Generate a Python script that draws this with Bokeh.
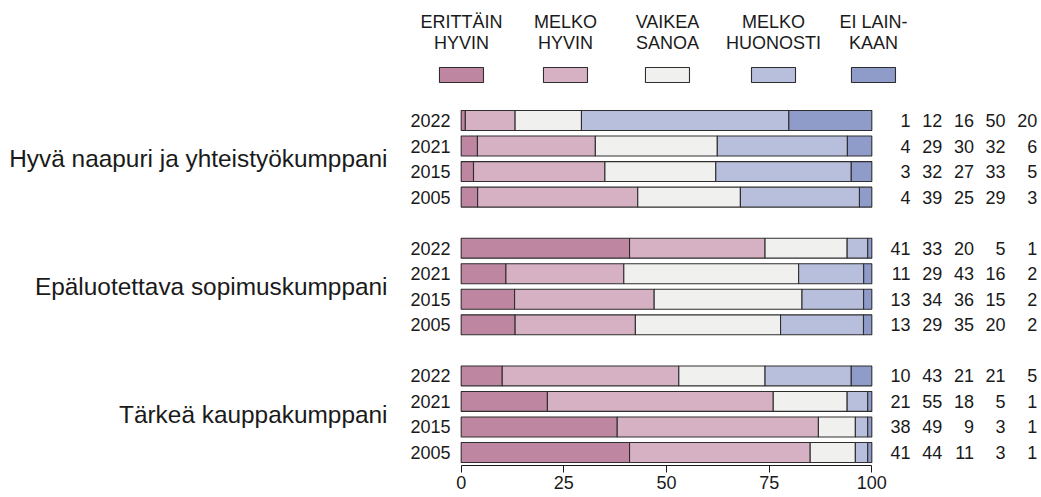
from bokeh.plotting import figure
from bokeh.models import ColumnDataSource, Range1d, LinearAxis, FixedTicker
from bokeh.core.properties import value
from bokeh.embed import file_html
from bokeh.resources import INLINE

# ---------------- data ----------------
groups = ["Hyvä naapuri ja yhteistyökumppani",
          "Epäluotettava sopimuskumppani",
          "Tärkeä kauppakumppani"]
years = ["2022", "2021", "2015", "2005"]
series_names_1 = ["ERITTÄIN", "MELKO", "VAIKEA", "MELKO", "EI LAIN-"]
series_names_2 = ["HYVIN", "HYVIN", "SANOA", "HUONOSTI", "KAAN"]

erittain_hyvin = [1, 4, 3, 4, 41, 11, 13, 13, 10, 21, 38, 41]
melko_hyvin = [12, 29, 32, 39, 33, 29, 34, 29, 43, 55, 49, 44]
vaikea_sanoa = [16, 30, 27, 25, 20, 43, 36, 35, 21, 18, 9, 11]
melko_huonosti = [50, 32, 33, 29, 5, 16, 15, 20, 21, 5, 3, 3]
ei_lainkaan = [20, 6, 5, 3, 1, 2, 2, 2, 5, 1, 1, 1]
x_ticks = [0, 25, 50, 75, 100]

series = [erittain_hyvin, melko_hyvin, vaikea_sanoa, melko_huonosti, ei_lainkaan]
colors = ["#bf86a1", "#d6b0c3", "#f0f1ef", "#b7bfdc", "#8f9bc9"]

FONT = "Liberation Sans"
TXT = "#1a1a1a"

# ---------------- layout ----------------
W, H = 1041, 497
p = figure(width=W, height=H, output_backend="svg", toolbar_location=None,
           x_range=Range1d(-112.2, 141.33), y_range=Range1d(13.508, -4.698),
           min_border_left=0, min_border_right=0, min_border_top=0,
           min_border_bottom=32, y_axis_location=None, x_axis_location=None)
p.outline_line_color = None
p.xgrid.visible = False
p.ygrid.visible = False
p.background_fill_color = "white"
p.border_fill_color = "white"

# rows: group g, year i -> g*5 + i
rows, year_lbl = [], []
for g in range(len(groups)):
    for i, yr in enumerate(years):
        rows.append(g * 5 + i)
        year_lbl.append(yr)

n = len(rows)
totals = [sum(s[k] for s in series) for k in range(n)]
lefts = [0.0] * n
for s, c in zip(series, colors):
    widths = [100.0 * s[k] / totals[k] for k in range(n)]
    rights = [lefts[k] + widths[k] for k in range(n)]
    src = ColumnDataSource(dict(y=rows, left=lefts, right=rights))
    p.hbar(y="y", left="left", right="right", height=0.78, source=src,
           fill_color=c, line_color="#2e2e2e", line_width=1.1)
    lefts = rights

# year labels
p.text(x=[-2.6] * n, y=rows, text=year_lbl, text_align="right",
       text_baseline="middle", text_font=value(FONT), text_font_size="18px",
       text_color=TXT)

# group labels
p.text(x=[-17.95] * len(groups), y=[g * 5 + 1.5 for g in range(len(groups))],
       text=groups, text_align="right", text_baseline="middle",
       text_font=value(FONT), text_font_size="24.4px", text_color=TXT)

# value columns
col_x = [109.43, 117.15, 124.87, 132.57, 140.3]
for cx, s in zip(col_x, series):
    p.text(x=[cx] * n, y=rows, text=[str(v) for v in s], text_align="right",
           text_baseline="middle", text_font=value(FONT), text_font_size="18px",
           text_color=TXT)

# legend
leg_x = [0.07, 25.4, 50.24, 76.06, 100.41]
p.text(x=leg_x, y=[-3.837] * 5, text=series_names_1, text_align="center",
       text_baseline="middle", text_font=value(FONT), text_font_size="18px",
       text_color=TXT)
p.text(x=leg_x, y=[-3.015] * 5, text=series_names_2, text_align="center",
       text_baseline="middle", text_font=value(FONT), text_font_size="18px",
       text_color=TXT)
p.rect(x=leg_x, y=[-1.78] * 5, width=10.72, height=0.587, fill_color=colors,
       line_color="#2e2e2e", line_width=1.1)

# x axis
ax = LinearAxis(ticker=FixedTicker(ticks=x_ticks), bounds=(0, 100))
ax.axis_line_color = "#1a1a1a"
ax.axis_line_width = 1
ax.major_tick_line_color = "#1a1a1a"
ax.major_tick_in = 0
ax.major_tick_out = 7
ax.minor_tick_line_color = None
ax.major_label_standoff = 3
ax.major_label_text_font = FONT
ax.major_label_text_font_size = "18px"
ax.major_label_text_color = TXT
p.add_layout(ax, "below")

open("out.html", "w").write(file_html(p, INLINE))
